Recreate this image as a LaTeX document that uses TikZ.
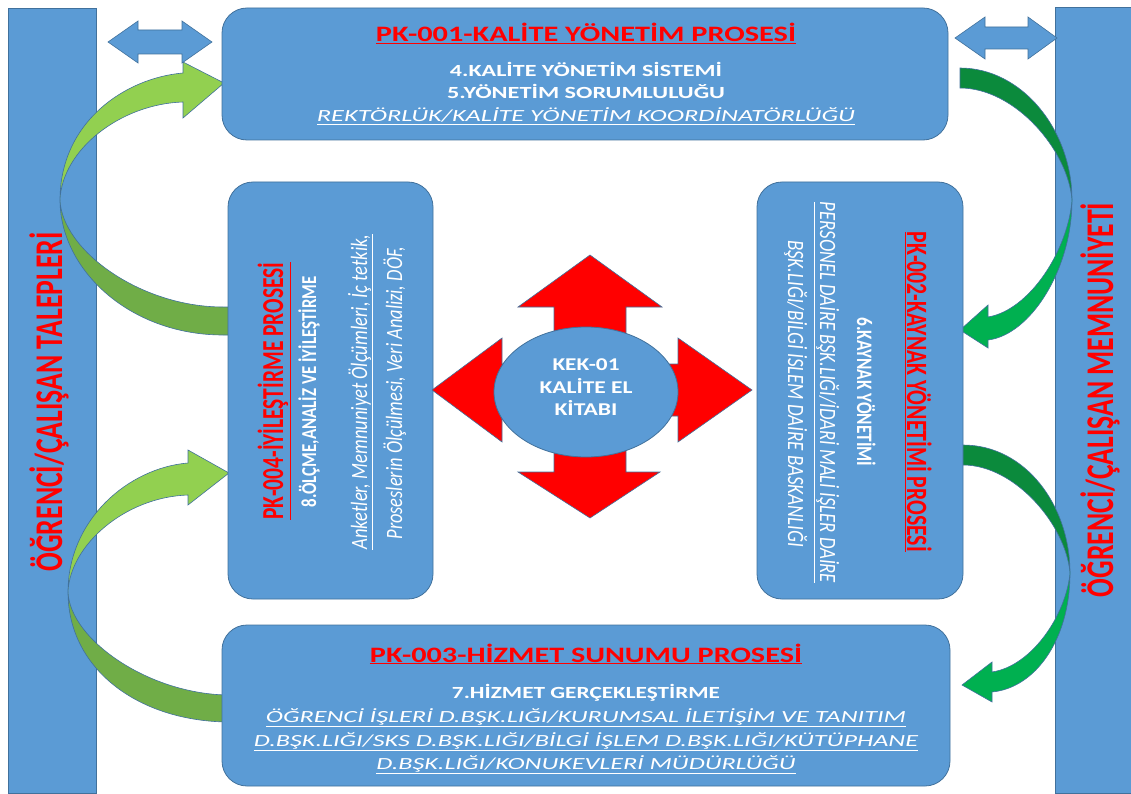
\documentclass[tikz,border=0pt]{standalone}
\usepackage{fontspec}
\setmainfont{Carlito}
\usepackage{graphicx}
\usetikzlibrary{shapes.geometric}
\definecolor{boxblue}{HTML}{5B9BD5}
\definecolor{edgeblue}{HTML}{41719C}
\definecolor{lgreen}{HTML}{92D050}
\definecolor{dgreen}{HTML}{70AD47}
\definecolor{rgreenA}{HTML}{0B8A3C}
\definecolor{rgreenB}{HTML}{00B050}
\definecolor{pred}{HTML}{FF0000}
\newcommand\hfit[2]{\resizebox{#1}{\height}{#2}}
\newcommand\rfit[3]{\resizebox{#1}{\height}{\scalebox{1}[#2]{#3}}}
\tikzset{
  box/.style={draw=edgeblue, fill=boxblue, line width=0.8pt, rounded corners=25pt,
              inner sep=0pt, outer sep=0pt},
  bar/.style={draw=edgeblue, fill=boxblue, line width=0.8pt, inner sep=0pt, outer sep=0pt},
  blk/.style={draw=edgeblue, line width=0.6pt},
  txt/.style={inner sep=0pt, outer sep=0pt, anchor=base},
  redtxt/.style={txt, text=pred, font=\bfseries},
  wbold/.style={txt, text=white, font=\bfseries},
  wital/.style={txt, text=white, font=\itshape},
}
\begin{document}
\begin{tikzpicture}[x=1pt,y=-1pt]
\useasboundingbox (0,0) rectangle (1131,794);

% side bars
\node[bar, minimum width=88pt, minimum height=785pt] (lbar) at (52,400.5) {};
\node[bar, minimum width=90pt, minimum height=786pt] (rbar) at (1100,400) {};
\node[redtxt, anchor=center, rotate=90] (ltxt) at (49,402)
  {\rfit{339pt}{1.4}{\fontsize{28}{30}\selectfont ÖĞRENCİ/ÇALIŞAN TALEPLERİ}};
\node[redtxt, anchor=center, rotate=90] (rtxt) at (1100,400)
  {\rfit{394pt}{1.4}{\fontsize{28}{30}\selectfont ÖĞRENCİ/ÇALIŞAN MEMNUNİYETİ}};

% curved arrows (left)
\filldraw[blk, fill=dgreen] (60,200) .. controls (60,270) and (130,335) .. (223,335)
  -- (240,335) -- (240,307) -- (223,307) .. controls (140,307) and (62,250) .. (60,200) -- cycle;
\filldraw[blk, fill=lgreen] (60,200) .. controls (60,122) and (125,78) .. (183,73)
  -- (183,62) -- (224,83) -- (183,118) -- (183,102) .. controls (120,104) and (62,150) .. (60,200) -- cycle;
\filldraw[blk, fill=dgreen] (68,592) .. controls (68,670) and (140,722) .. (230,722)
  -- (240,722) -- (240,695) -- (230,695) .. controls (150,695) and (70,640) .. (68,592) -- cycle;
\filldraw[blk, fill=lgreen] (68,592) .. controls (68,520) and (128,468) .. (188,463)
  -- (188,450) -- (229,473) -- (188,505) -- (188,495) .. controls (125,497) and (70,545) .. (68,592) -- cycle;

% curved arrows (right)
\filldraw[blk, fill=rgreenA] (960,68) .. controls (1022,68) and (1072,130) .. (1072,200)
  .. controls (1068,150) and (1015,88) .. (960,88) -- cycle;
\filldraw[blk, fill=rgreenB] (1072,200) .. controls (1072,270) and (1030,335) .. (988,340)
  -- (988,348) -- (960,330) -- (988,305) -- (988,317) .. controls (1030,310) and (1068,250) .. (1072,200) -- cycle;
\filldraw[blk, fill=rgreenA] (955,445) -- (963,445) .. controls (1025,445) and (1070,505) .. (1070,573)
  .. controls (1066,525) and (1015,465) .. (963,465) -- (955,465) -- cycle;
\filldraw[blk, fill=rgreenB] (1070,573) .. controls (1070,640) and (1035,688) .. (992,692)
  -- (992,702) -- (962,685) -- (992,662) -- (992,672) .. controls (1032,666) and (1066,615) .. (1070,573) -- cycle;

% process boxes
\node[box, minimum width=726pt, minimum height=132pt] (pk1) at (585,74) {};
\node[box, minimum width=205pt, minimum height=417pt] (pk4) at (330.5,390.5) {};
\node[box, minimum width=206pt, minimum height=417pt] (pk2) at (860,390.5) {};
\node[box, minimum width=728pt, minimum height=161pt] (pk3) at (586,705.5) {};

% PK-001 texts
\node[redtxt] (t1a) at (586,42) {\hfit{420pt}{\fontsize{22}{24}\selectfont\underline{PK-001-KALİTE YÖNETİM PROSESİ}}};
\node[wbold] (t1b) at (586,77) {\hfit{272pt}{\fontsize{17}{20}\selectfont 4.KALİTE YÖNETİM SİSTEMİ}};
\node[wbold] (t1c) at (586,99) {\hfit{278pt}{\fontsize{17}{20}\selectfont 5.YÖNETİM SORUMLULUĞU}};
\node[wital] (t1d) at (586,122) {\hfit{538pt}{\fontsize{17}{20}\selectfont\underline{REKTÖRLÜK/KALİTE YÖNETİM KOORDİNATÖRLÜĞÜ}}};

% PK-003 texts
\node[redtxt] (t3a) at (586,662) {\hfit{432pt}{\fontsize{22}{24}\selectfont\underline{PK-003-HİZMET SUNUMU PROSESİ}}};
\node[wbold] (t3b) at (586,698) {\hfit{268pt}{\fontsize{17}{20}\selectfont 7.HİZMET GERÇEKLEŞTİRME}};
\node[wital] (t3c) at (586,722) {\hfit{640pt}{\fontsize{17}{20}\selectfont\underline{ÖĞRENCİ İŞLERİ D.BŞK.LIĞI/KURUMSAL İLETİŞİM VE TANITIM}}};
\node[wital] (t3d) at (586,746) {\hfit{664pt}{\fontsize{17}{20}\selectfont\underline{D.BŞK.LIĞI/SKS D.BŞK.LIĞI/BİLGİ İŞLEM D.BŞK.LIĞI/KÜTÜPHANE}}};
\node[wital] (t3e) at (586,769) {\hfit{419pt}{\fontsize{17}{20}\selectfont\underline{D.BŞK.LIĞI/KONUKEVLERİ MÜDÜRLÜĞÜ}}};

% PK-004 texts (bottom to top)
\node[redtxt, rotate=90] (t4a) at (283,391) {\rfit{257pt}{1.45}{\fontsize{21}{24}\selectfont\underline{PK-004-İYİLEŞTİRME PROSESİ}}};
\node[wbold, rotate=90] (t4b) at (316,392) {\rfit{231pt}{1.25}{\fontsize{17}{20}\selectfont 8.ÖLÇME,ANALİZ VE İYİLEŞTİRME}};
\node[wital, rotate=90] (t4c) at (367,392) {\rfit{315pt}{1.3}{\fontsize{18}{20}\selectfont\underline{Anketler, Memnuniyet Ölçümleri, İç tetkik,}}};
\node[wital, rotate=90] (t4d) at (402,393) {\rfit{293pt}{1.3}{\fontsize{18}{20}\selectfont Proseslerin Ölçülmesi, Veri Analizi, DÖF,}};

% PK-002 texts (top to bottom)
\node[redtxt, rotate=-90] (t2a) at (907,392) {\rfit{320pt}{1.4}{\fontsize{21}{24}\selectfont\underline{PK-002-KAYNAK YÖNETİMİ PROSESİ}}};
\node[wbold, rotate=-90] (t2b) at (857,392) {\rfit{149pt}{1.3}{\fontsize{17}{20}\selectfont 6.KAYNAK YÖNETİMİ}};
\node[wital, rotate=-90] (t2c) at (820,392.5) {\rfit{381pt}{1.3}{\fontsize{18}{20}\selectfont\underline{PERSONEL DAİRE BŞK.LIĞI/İDARİ MALİ İŞLER DAİRE}}};
\node[wital, rotate=-90] (t2d) at (788,393.5) {\rfit{307pt}{1.3}{\fontsize{18}{20}\selectfont BŞK.LIĞI/BİLGİ İSLEM DAİRE BASKANLIĞI}};

% double arrows
\filldraw[blk, fill=boxblue] (108,42) -- (138,21) -- (138,30) -- (182,30) -- (182,21) -- (212,42)
  -- (182,63) -- (182,54) -- (138,54) -- (138,63) -- cycle;
\filldraw[blk, fill=boxblue] (955,38) -- (985,17) -- (985,27) -- (1028,27) -- (1028,17) -- (1057,38)
  -- (1028,59) -- (1028,49) -- (985,49) -- (985,59) -- cycle;

% quad arrow
\filldraw[blk, fill=pred] (590,255) -- (662,307) -- (626,307) -- (626,364) -- (678,364) -- (678,338)
  -- (752,390) -- (678,442) -- (678,416) -- (626,416) -- (626,472) -- (660,472) -- (590,518)
  -- (518,472) -- (554,472) -- (554,416) -- (502,416) -- (502,442) -- (432,390) -- (502,338)
  -- (502,364) -- (554,364) -- (554,307) -- (518,307) -- cycle;

% central ellipse
\node[ellipse, draw=edgeblue, fill=boxblue, line width=0.8pt, minimum width=184pt, minimum height=130pt,
      inner sep=0pt] (kek) at (586,392) {};
\node[wbold] (k1) at (586,370) {\hfit{67pt}{\fontsize{18}{20}\selectfont KEK-01}};
\node[wbold] (k2) at (586,393) {\hfit{93pt}{\fontsize{18}{20}\selectfont KALİTE EL}};
\node[wbold] (k3) at (586,415) {\hfit{63pt}{\fontsize{18}{20}\selectfont KİTABI}};
\end{tikzpicture}
\end{document}
